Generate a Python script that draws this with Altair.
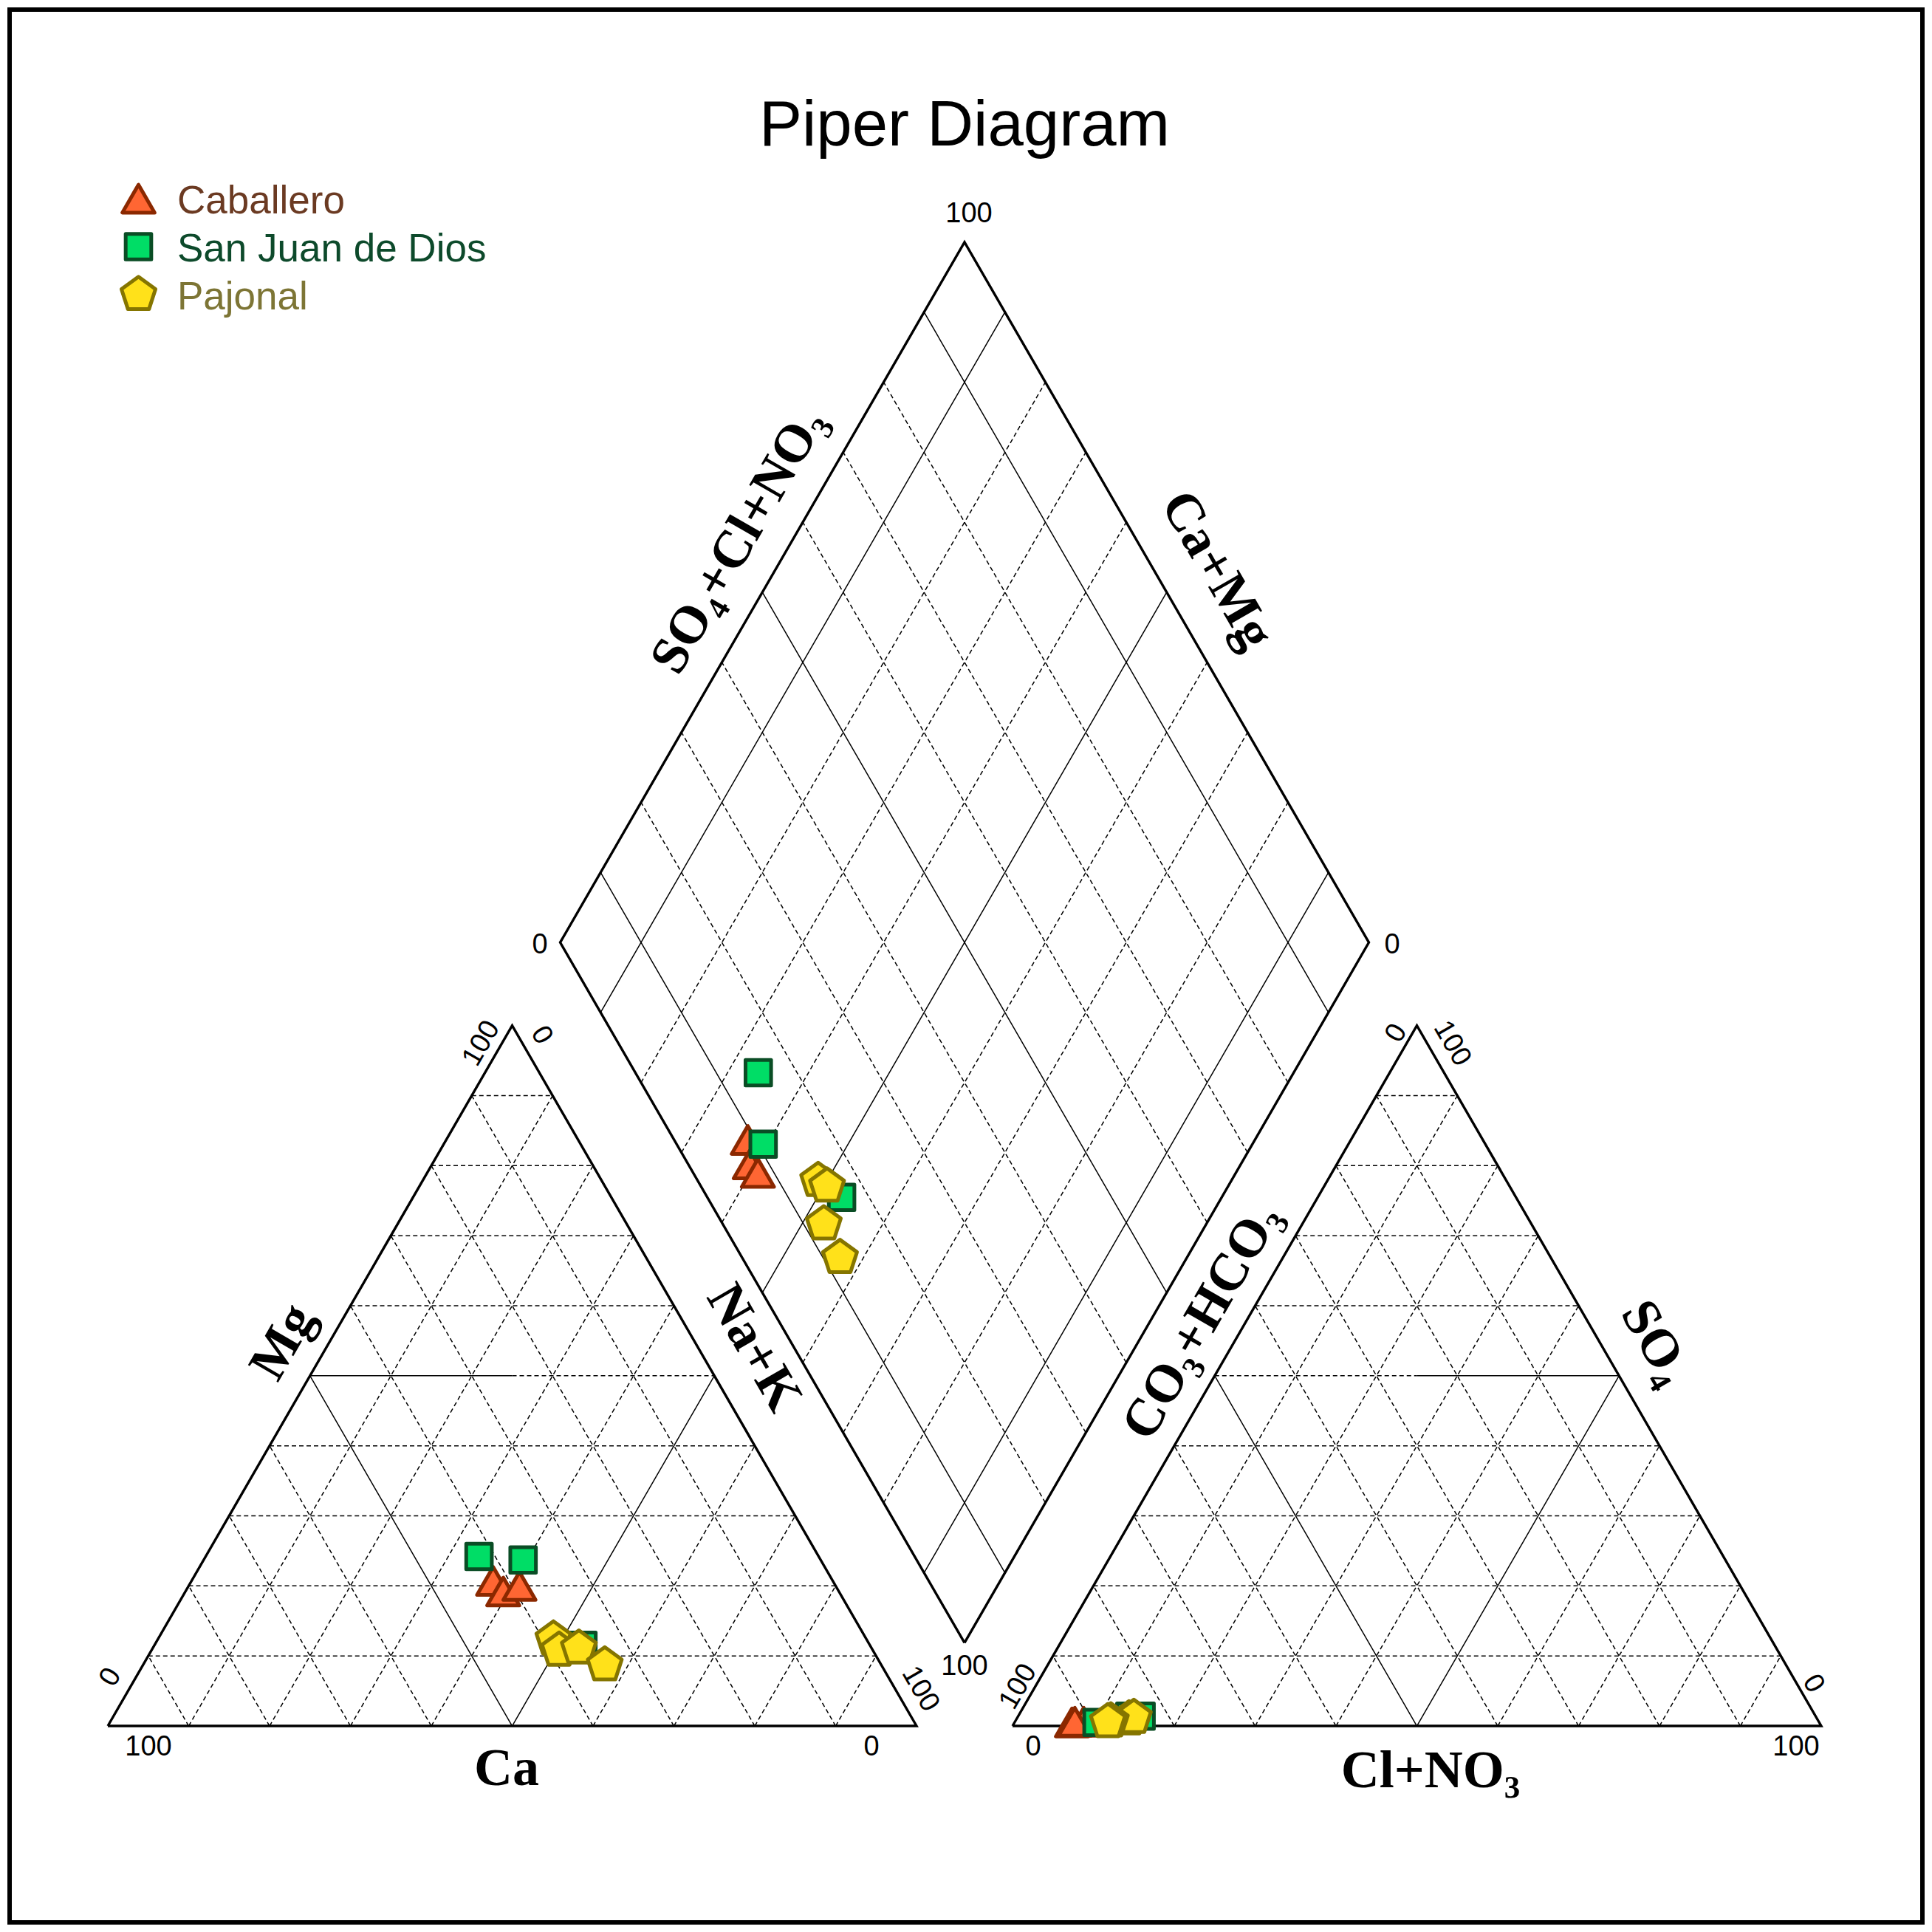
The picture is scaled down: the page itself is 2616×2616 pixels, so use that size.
import math
import altair as alt
import pandas as pd

# ---------------- sample data (% of meq/L) ----------------
SERIES = ["Caballero", "San Juan de Dios", "Pajonal"]
SAMPLE_SERIES = ["Caballero", "Caballero", "Caballero",
                 "San Juan de Dios", "San Juan de Dios", "San Juan de Dios",
                 "Pajonal", "Pajonal", "Pajonal", "Pajonal"]
CA   = [42.0, 41.5, 39.1, 42.0, 36.8, 35.5, 38.7, 38.8, 36.2, 34.2]
MG   = [20.7, 19.2, 20.0, 24.2, 23.7, 11.5, 12.4, 10.8, 11.1, 8.7]
NAK  = [37.3, 39.3, 40.9, 33.8, 39.5, 53.0, 48.9, 50.4, 52.7, 57.1]
HCO3 = [90.9, 92.4, 92.0, 84.8, 89.3, 83.4, 85.1, 84.4, 87.5, 87.9]
SO4  = [0.6, 0.5, 0.6, 1.4, 0.5, 1.4, 1.0, 1.2, 0.7, 0.6]
CL   = [8.5, 7.1, 7.4, 13.8, 10.2, 15.2, 13.9, 14.4, 11.8, 11.5]

TITLE = "Piper Diagram"
GRID_STEPS = [10, 20, 30, 40, 50, 60, 70, 80, 90]

# ---------------- styles ----------------
FILLS = ["#FF6633", "#00DD66", "#FFE11A"]
STROKES = ["#8B2800", "#0A4D25", "#857500"]
TEXT_COLORS = ["#6B3A22", "#0D4A2B", "#7D7535"]
PENTAGON = "M0,-1L0.951,-0.309L0.588,0.809L-0.588,0.809L-0.951,-0.309Z"
SHAPES = ["triangle-up", "square", PENTAGON]
SIZES = [1900, 1200, 2350]

# ---------------- layout (page pixels) ----------------
S = 1095.0
H = S * math.sqrt(3) / 2
BASE = 2337.0
CX0 = 146.0
AX0 = 1371.0
GAP = AX0 - (CX0 + S)
BX = CX0 + S + GAP / 2
BY = BASE - GAP * math.sqrt(3) / 2

CAT = [(CX0, BASE), (CX0 + S, BASE), (CX0 + S / 2, BASE - H)]
ANI = [(AX0, BASE), (AX0 + S, BASE), (AX0 + S / 2, BASE - H)]
DB = (BX, BY)
DL = (BX - S / 2, BY - H)
DR = (BX + S / 2, BY - H)
DT = (BX, BY - 2 * H)

xs = alt.Scale(domain=[13, 2603], nice=False, zero=False)
ys = alt.Scale(domain=[13, 2603], nice=False, zero=False, reverse=True)


def lerp(a, b, f):
    return (a[0] + (b[0] - a[0]) * f, a[1] + (b[1] - a[1]) * f)


solid, dashed = [], []


def seg(lst, a, b):
    lst.append({"x": a[0], "y": a[1], "x2": b[0], "y2": b[1]})


def tri_grid(P0, P1, P2, left_half_solid):
    for g in GRID_STEPS:
        f = g / 100
        # constant apex component
        a, b = lerp(P0, P2, f), lerp(P1, P2, f)
        if g == 50:
            m = lerp(a, b, 0.5)
            if left_half_solid:
                seg(solid, a, m); seg(dashed, m, b)
            else:
                seg(dashed, a, m); seg(solid, m, b)
        else:
            seg(dashed, a, b)
        # constant P1 component
        a, b = lerp(P0, P1, f), lerp(P2, P1, f)
        seg(solid if g == 50 else dashed, a, b)
        # constant P0 component
        a, b = lerp(P1, P0, f), lerp(P2, P0, f)
        seg(solid if g == 50 else dashed, a, b)


tri_grid(*CAT, left_half_solid=True)
tri_grid(*ANI, left_half_solid=False)

for g in GRID_STEPS:
    f = g / 100
    lst = solid if g in (10, 50, 90) else dashed
    a = lerp(DB, DL, f)
    seg(lst, a, (a[0] + DR[0] - DB[0], a[1] + DR[1] - DB[1]))
    a = lerp(DB, DR, f)
    seg(lst, a, (a[0] + DL[0] - DB[0], a[1] + DL[1] - DB[1]))

outline = []
for name, pts in [("cat", CAT), ("ani", ANI), ("dia", [DB, DL, DT, DR])]:
    for k, p in enumerate(pts + [pts[0]]):
        outline.append({"shape": name, "k": k, "x": p[0], "y": p[1]})


def rules(rows, **kw):
    return alt.Chart(pd.DataFrame(rows)).mark_rule(color="black", **kw).encode(
        x=alt.X("x:Q", scale=xs, axis=None),
        y=alt.Y("y:Q", scale=ys, axis=None),
        x2="x2:Q", y2="y2:Q",
    )


dash_layer = rules(dashed, strokeWidth=1.5, strokeDash=[6, 4])
solid_layer = rules(solid, strokeWidth=1.5)
outline_layer = alt.Chart(pd.DataFrame(outline)).mark_line(
    color="black", strokeWidth=3.4, strokeJoin="miter").encode(
    x=alt.X("x:Q", scale=xs, axis=None),
    y=alt.Y("y:Q", scale=ys, axis=None),
    order="k:Q", detail="shape:N",
)

# ---------------- sample points ----------------
df = pd.DataFrame({"series": SAMPLE_SERIES, "Ca": CA, "Mg": MG, "NaK": NAK,
                   "HCO3": HCO3, "SO4": SO4, "Cl": CL})

PROJ = {
    "cation": (f"{CX0} + {S}*(datum.NaK + datum.Mg/2)/100",
               f"{BASE} - {H}*datum.Mg/100"),
    "anion": (f"{AX0} + {S}*(datum.Cl + datum.SO4/2)/100",
              f"{BASE} - {H}*datum.SO4/100"),
    "diamond": (f"{BX} + {S/2}*((datum.SO4 + datum.Cl) - (datum.Ca + datum.Mg))/100",
                f"{BY} - {H}*((datum.SO4 + datum.Cl) + (datum.Ca + datum.Mg))/100"),
}

point_layers = []
for i, name in enumerate(SERIES):
    for region, (xe, ye) in PROJ.items():
        point_layers.append(
            alt.Chart(df).transform_filter(alt.datum.series == name)
            .transform_calculate(px=xe, py=ye)
            .mark_point(shape=SHAPES[i], fill=FILLS[i], stroke=STROKES[i],
                        filled=True, opacity=1, fillOpacity=1, strokeWidth=5,
                        strokeJoin="round", size=SIZES[i])
            .encode(x=alt.X("px:Q", scale=xs, axis=None),
                    y=alt.Y("py:Q", scale=ys, axis=None))
        )

# ---------------- legend ----------------
leg_rows = [{"series": n, "x": 187.5, "y": 269 + 65 * i, "tx": 240,
             "ty": 289 + 65 * i} for i, n in enumerate(SERIES)]
leg_layers = []
for i, r in enumerate(leg_rows):
    d = pd.DataFrame([r])
    leg_layers.append(
        alt.Chart(d).mark_point(shape=SHAPES[i], fill=FILLS[i], stroke=STROKES[i],
                                filled=True, opacity=1, strokeWidth=5, strokeJoin="round",
                                size=SIZES[i])
        .encode(x=alt.X("x:Q", scale=xs, axis=None), y=alt.Y("y:Q", scale=ys, axis=None))
    )
    leg_layers.append(
        alt.Chart(d).mark_text(font="Liberation Sans", fontSize=53, align="left",
                               baseline="alphabetic", color=TEXT_COLORS[i])
        .encode(x=alt.X("tx:Q", scale=xs, axis=None), y=alt.Y("ty:Q", scale=ys, axis=None),
                text="series:N")
    )

# ---------------- texts ----------------
AXIS_LABELS = [
    ("Ca", 686, 2395, 0), ("Cl+NO\u2083", 1937, 2398, 0),
    ("Mg", 383, 1817, 300), ("Na+K", 1021, 1825, 60),
    ("SO\u2084+Cl+NO\u2083", 1000, 732, 300), ("Ca+Mg", 1648, 772, 60),
    ("CO\u2083+HCO\u2083", 1627, 1789, 300), ("SO\u2084", 2242, 1818, 60),
]
TICKS = [
    ("100", 201, 2366, 0), ("0", 1180, 2366, 0),
    ("0", 150, 2271, 300), ("100", 652, 1413, 300),
    ("0", 733, 1402, 60), ("100", 1246, 2287, 60),
    ("0", 1399, 2366, 0), ("100", 2432, 2366, 0),
    ("100", 1379, 2284, 300), ("0", 1891, 1399, 300),
    ("100", 1966, 1413, 60), ("0", 2455, 2280, 60),
    ("100", 1312, 290, 0), ("0", 731, 1280, 0),
    ("0", 1885, 1280, 0), ("100", 1306, 2257, 0),
]


def text_layer(rows, **kw):
    d = pd.DataFrame(rows, columns=["t", "x", "y", "a"])
    return alt.Chart(d).mark_text(align="center", baseline="middle", color="black", **kw).encode(
        x=alt.X("x:Q", scale=xs, axis=None),
        y=alt.Y("y:Q", scale=ys, axis=None),
        text="t:N",
        angle=alt.Angle("a:Q", scale=None),
    )


axis_label_layer = text_layer(AXIS_LABELS, font="Liberation Serif", fontWeight="bold", fontSize=72)
tick_layer = text_layer(TICKS, font="Liberation Sans", fontSize=38)
title_layer = alt.Chart(pd.DataFrame([{"t": TITLE, "x": 1306, "y": 197}])).mark_text(
    font="Liberation Sans", fontSize=87, align="center", baseline="alphabetic", color="black"
).encode(x=alt.X("x:Q", scale=xs, axis=None), y=alt.Y("y:Q", scale=ys, axis=None), text="t:N")

chart = alt.layer(
    dash_layer, solid_layer, outline_layer, *point_layers, *leg_layers,
    axis_label_layer, tick_layer, title_layer,
).properties(
    width=2590, height=2590, padding={"left": 5, "top": 5, "right": 5, "bottom": 5},
    autosize=alt.AutoSizeParams(type="none"), background="white",
).configure_view(stroke="black", strokeWidth=6)

chart.save("out.html", embed_options={"renderer": "svg", "actions": False})
